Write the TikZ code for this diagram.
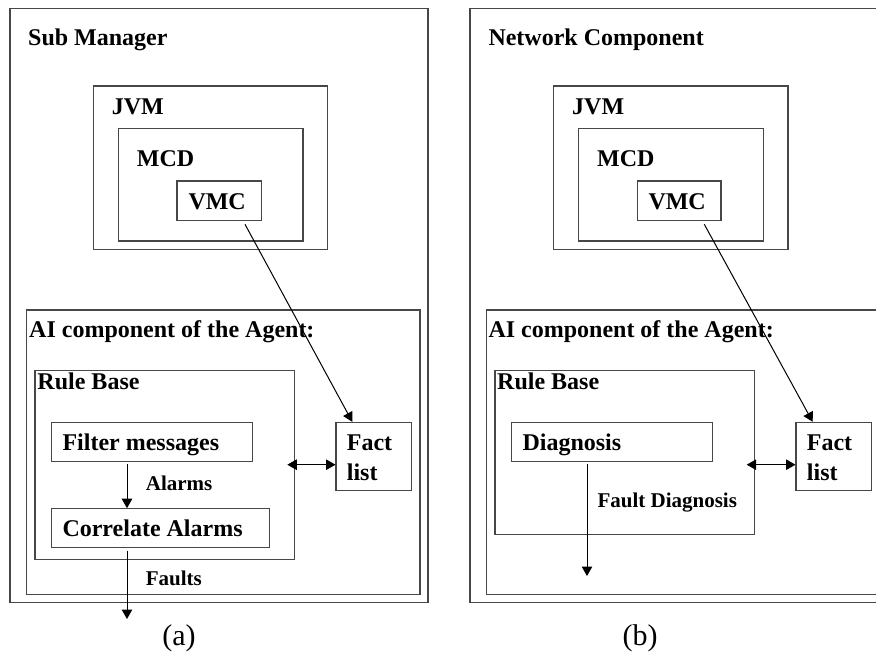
\documentclass[tikz,border=0pt]{standalone}
\usepackage{fontspec}
\setmainfont{Liberation Serif}
\usetikzlibrary{arrows.meta,calc}
\tikzset{
  box/.style={draw=black!72, line width=1.3pt, rectangle, inner sep=0pt, outer sep=0pt, anchor=north west},
  lbl/.style={anchor=base west, inner sep=0pt, font=\fontsize{24}{24}\selectfont\bfseries},
  small/.style={anchor=base west, inner sep=0pt, font=\fontsize{21}{21}\selectfont\bfseries},
  captext/.style={anchor=base, inner sep=0pt, font=\fontsize{30}{30}\selectfont},
  arr/.style={line width=1pt, -{Triangle[length=9.5pt,width=10.5pt]}},
  darr/.style={line width=1pt, {Triangle[length=9.5pt,width=10.5pt]}-{Triangle[length=9.5pt,width=10.5pt]}}
}
\begin{document}
\begin{tikzpicture}[x=1pt,y=-1pt]
\useasboundingbox (0,0) rectangle (876,651);
\clip (0,0) rectangle (876,651);
% ---------- panel (a)
\node[box, minimum width=418pt, minimum height=594pt] (outerA) at (10,8.5) {};
\node[lbl] (tSubMgr) at (28,45) {Sub Manager};
\node[box, minimum width=234pt, minimum height=163.3pt] (jvmA) at (93.7,86) {};
\node[lbl] (tJvmA) at (111.7,114) {JVM};
\node[box, minimum width=184.3pt, minimum height=112.3pt] (mcdA) at (118.7,128.7) {};
\node[lbl] (tMcdA) at (136.7,166) {MCD};
\node[box, minimum width=84.3pt, minimum height=39.3pt] (vmcA) at (177,181) {};
\node[lbl] (tVmcA) at (188.3,209) {VMC};
\node[box, minimum width=393.3pt, minimum height=284.7pt] (aiA) at (26.7,310) {};
\node[lbl] (tAiA) at (29,337.3) {AI component of the Agent:};
\node[box, minimum width=259.7pt, minimum height=189pt] (rbA) at (35,370.3) {};
\node[lbl] (tRbA) at (37.3,389.3) {Rule Base};
\node[box, minimum width=201.4pt, minimum height=39pt] (filtA) at (51.3,422.3) {};
\node[lbl] (tFilt) at (62.3,450.7) {Filter messages};
\node[box, minimum width=218.4pt, minimum height=39pt] (corrA) at (51.3,508.7) {};
\node[lbl] (tCorr) at (62.3,536.7) {Correlate Alarms};
\node[box, minimum width=75.3pt, minimum height=68pt] (factA) at (336,422.3) {};
\node[lbl] (tFactA) at (346.7,450.7) {Fact};
\node[lbl] (tListA) at (346.7,480) {list};
\node[small] (tAlarms) at (145.7,490.7) {Alarms};
\node[small] (tFaults) at (145.7,585) {Faults};
\node[captext] (capA) at (179,645) {(a)};
\coordinate (faultsEnd) at (127,619);
\draw[arr] ($(vmcA.south west)+(68,4)$) -- ($(factA.north west)+(16.3,-0.5)$);
\draw[arr] ($(filtA.south west)+(75.7,3)$) -- ($(corrA.north west)+(75.7,-0.5)$);
\draw[arr] ($(corrA.south west)+(75.7,3)$) -- (faultsEnd);
\draw[darr] ($(rbA.north east)+(-7.4,94.4)$) -- ($(factA.north west)+(-0.5,42.4)$);
% ---------- panel (b)
\node[box, minimum width=430pt, minimum height=594pt] (outerB) at (470,8.5) {};
\node[lbl] (tNetComp) at (488.3,45) {Network Component};
\node[box, minimum width=234.7pt, minimum height=163.3pt] (jvmB) at (553.3,86) {};
\node[lbl] (tJvmB) at (572,114) {JVM};
\node[box, minimum width=185pt, minimum height=112.3pt] (mcdB) at (578.3,128.7) {};
\node[lbl] (tMcdB) at (597,166) {MCD};
\node[box, minimum width=83.7pt, minimum height=39.3pt] (vmcB) at (637.3,181) {};
\node[lbl] (tVmcB) at (648.3,209) {VMC};
\node[box, minimum width=430pt, minimum height=284.7pt] (aiB) at (486.3,310) {};
\node[lbl] (tAiB) at (488.3,337.3) {AI component of the Agent:};
\node[box, minimum width=259.7pt, minimum height=164pt] (rbB) at (495,370.3) {};
\node[lbl] (tRbB) at (497,389.3) {Rule Base};
\node[box, minimum width=201pt, minimum height=39pt] (diagB) at (511.7,422.3) {};
\node[lbl] (tDiag) at (522.3,450.7) {Diagnosis};
\node[box, minimum width=75.7pt, minimum height=68pt] (factB) at (796,422.3) {};
\node[lbl] (tFactB) at (806.7,450.7) {Fact};
\node[lbl] (tListB) at (806.7,480) {list};
\node[small] (tFaultDiag) at (597.3,507.3) {Fault Diagnosis};
\node[captext] (capB) at (640,645) {(b)};
\coordinate (diagEnd) at (587,576);
\draw[arr] ($(vmcB.south west)+(67,4)$) -- ($(factB.north west)+(16.7,-0.5)$);
\draw[arr] ($(diagB.south west)+(75.3,3)$) -- (diagEnd);
\draw[darr] ($(rbB.north east)+(-8,94.4)$) -- ($(factB.north west)+(-0.5,42.4)$);
\end{tikzpicture}
\end{document}
